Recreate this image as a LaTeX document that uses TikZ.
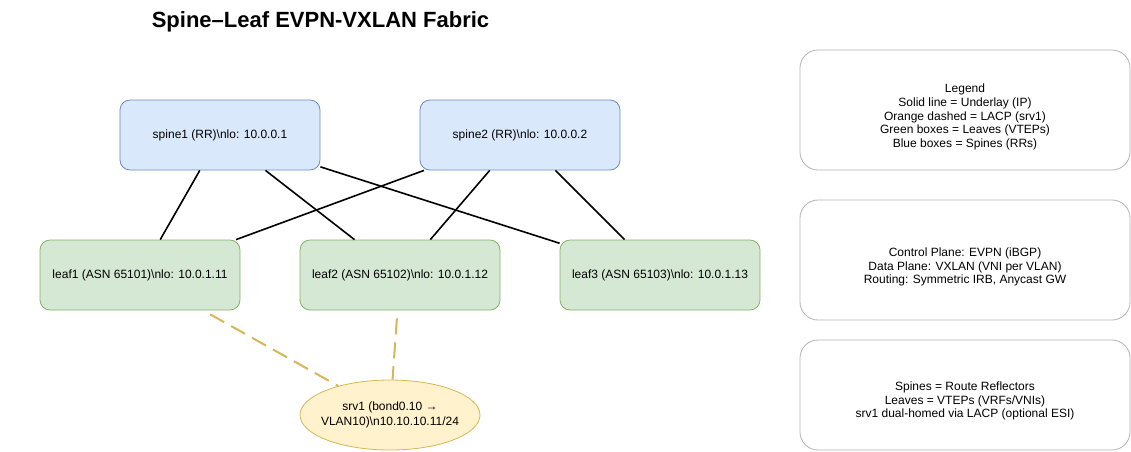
\documentclass[tikz,border=0pt]{standalone}
\usepackage{fontspec}
\setmainfont{Liberation Sans}
\usetikzlibrary{positioning,calc,shapes.geometric}

\definecolor{spinefill}{HTML}{DAE8FC}
\definecolor{spineline}{HTML}{6C8EBF}
\definecolor{leaffill}{HTML}{D5E8D4}
\definecolor{leafline}{HTML}{82B366}
\definecolor{srvfill}{HTML}{FFF2CC}
\definecolor{srvline}{HTML}{D6B656}
\definecolor{notegray}{HTML}{B3B3B3}

\begin{document}
\begin{tikzpicture}[
    x=1pt, y=-1pt,
    spine/.style={rectangle, draw=spineline, fill=spinefill, line width=0.8pt, rounded corners=10pt, minimum width=200pt, minimum height=70pt, font=\fontsize{12}{14}\selectfont},
    leaf/.style={rectangle, draw=leafline, fill=leaffill, line width=0.8pt, rounded corners=10pt, minimum width=200pt, minimum height=70pt, font=\fontsize{12}{14}\selectfont},
    server/.style={ellipse, draw=srvline, fill=srvfill, line width=0.8pt, minimum width=180pt, minimum height=70pt, inner sep=0pt},
    servertext/.style={align=center, font=\fontsize{12}{15}\selectfont},
    note/.style={rectangle, draw=notegray, line width=0.8pt, rounded corners=18pt, minimum width=330pt},
    notetext/.style={align=center, font=\fontsize{12}{13.6}\selectfont},
    underlay/.style={draw, line width=1.6pt},
    lacp/.style={draw=srvline, line width=2pt, dash pattern=on 16pt off 8pt, dash phase=16pt}
]
\useasboundingbox (0,0) rectangle (1131,451);

% Title
\node[anchor=base, font=\fontsize{22}{26}\selectfont\bfseries] (title) at (320.5,27) {Spine--Leaf EVPN-VXLAN Fabric};

% Spines and leaves
\node[spine] (spine1) at (220,135) {spine1 (RR)\textbackslash nlo: 10.0.0.1};
\node[spine] (spine2) at (520,135) {spine2 (RR)\textbackslash nlo: 10.0.0.2};
\node[leaf] (leaf1) at (140,275) {leaf1 (ASN 65101)\textbackslash nlo: 10.0.1.11};
\node[leaf] (leaf2) at (400,275) {leaf2 (ASN 65102)\textbackslash nlo: 10.0.1.12};
\node[leaf] (leaf3) at (660,275) {leaf3 (ASN 65103)\textbackslash nlo: 10.0.1.13};

% Server
\node[server] (srv1) at (390,415) {};
\node[servertext] (srv1text) at (srv1.center) {srv1 (bond0.10 →\\VLAN10)\textbackslash n10.10.10.11/24};

% Notes on the right
\node[note, minimum height=120pt] (legend) at (965,110) {};
\node[notetext] (legendtext) at ([yshift=-7pt]legend.center) {Legend\\Solid line = Underlay (IP)\\Orange dashed = LACP (srv1)\\Green boxes = Leaves (VTEPs)\\Blue boxes = Spines (RRs)};
\node[note, minimum height=120pt] (planes) at (965,260) {};
\node[notetext] (planestext) at ([yshift=-7pt]planes.center) {Control Plane: EVPN (iBGP)\\Data Plane: VXLAN (VNI per VLAN)\\Routing: Symmetric IRB, Anycast GW};
\node[note, minimum height=110pt] (roles) at (965,395) {};
\node[notetext] (rolestext) at ([yshift=-6pt]roles.center) {Spines = Route Reflectors\\Leaves = VTEPs (VRFs/VNIs)\\srv1 dual-homed via LACP (optional ESI)};

% Underlay links
\foreach \s in {spine1,spine2}
  \foreach \l in {leaf1,leaf2,leaf3}
    \draw[underlay] (\s) -- (\l);

% LACP links
\draw[lacp] (leaf1) -- (srv1);
\draw[lacp] (leaf2) -- (srv1);

\end{tikzpicture}
\end{document}
